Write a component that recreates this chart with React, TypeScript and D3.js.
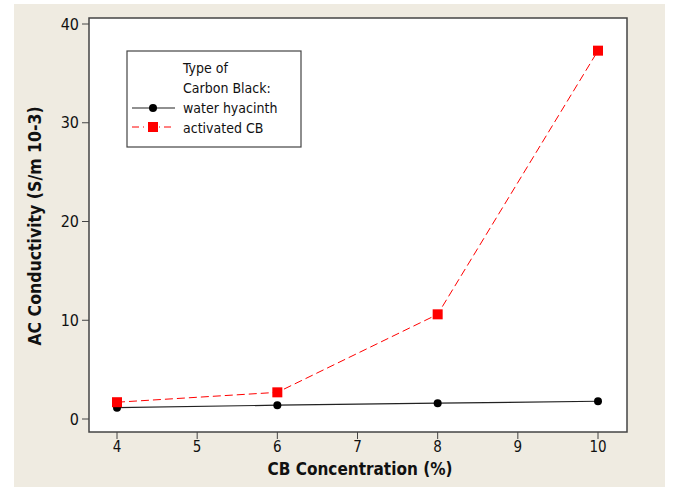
import React from "react";
import * as d3 from "d3";

const concentrations = [4, 6, 8, 10];
const waterHyacinth = [1.15, 1.4, 1.6, 1.8];
const activatedCB = [1.7, 2.7, 10.6, 37.3];
const xTicks = [4, 5, 6, 7, 8, 9, 10];
const yTicks = [0, 10, 20, 30, 40];
const legendTitle = ["Type of", "Carbon Black:"];
const seriesNames = ["water hyacinth", "activated CB"];

const W = 681, H = 491;
const COND = "DejaVu Sans Condensed, DejaVu Sans, sans-serif";

export default function App() {
  const left = 89, right = 627, top = 18, bottom = 432;
  const x = d3.scaleLinear().domain([4, 10]).range([117, 598]);
  const y = d3.scaleLinear().domain([0, 40]).range([419, 24]);
  const line = d3.line<number>().x((_, i) => x(concentrations[i])).y((d) => y(d));

  return (
    <svg width={W} height={H} style={{ position: "absolute", left: 0, top: 0 }}>
      <rect x={0} y={0} width={W} height={H} fill="#ffffff" />
      <rect x={14} y={4} width={651} height={483} fill="#EFEBE1" />
      <rect x={left} y={top} width={right - left} height={bottom - top} fill="#ffffff" stroke="#444" strokeWidth={1.5} />
      {yTicks.map((t) => (
        <g key={"y" + t}>
          <line x1={left - 7} x2={left} y1={y(t)} y2={y(t)} stroke="#444" />
          <text x={left - 10} y={y(t)} dy="0.35em" textAnchor="end" fontFamily={COND} fontSize={16} fill="#111">{t}</text>
        </g>
      ))}
      {xTicks.map((t) => (
        <g key={"x" + t}>
          <line x1={x(t)} x2={x(t)} y1={bottom} y2={bottom + 7} stroke="#444" />
          <text x={x(t)} y={bottom + 15} dy="0.35em" textAnchor="middle" fontFamily={COND} fontSize={15} fill="#111">{t}</text>
        </g>
      ))}
      <text x={360} y={469} dy="0.35em" textAnchor="middle" fontFamily={COND} fontSize={17} fontWeight="bold" fill="#111">CB Concentration (%)</text>
      <text transform={`translate(35,226) rotate(-90)`} dy="0.35em" textAnchor="middle" fontFamily={COND} fontSize={17.5} fontWeight="bold" fill="#111">AC Conductivity (S/m 10-3)</text>

      <path d={line(waterHyacinth) || ""} fill="none" stroke="#222" strokeWidth={1.2} />
      <path d={line(activatedCB) || ""} fill="none" stroke="#ff0000" strokeWidth={1} strokeDasharray="8,4" />
      {waterHyacinth.map((v, i) => (
        <circle key={"c" + i} cx={x(concentrations[i])} cy={y(v)} r={4} fill="#000" />
      ))}
      {activatedCB.map((v, i) => (
        <rect key={"s" + i} x={x(concentrations[i]) - 5} y={y(v) - 5} width={10} height={10} fill="#ff0000" />
      ))}

      <rect x={127} y={51} width={174} height={96} fill="#ffffff" stroke="#444" strokeWidth={1.2} />
      {legendTitle.map((t, i) => (
        <text key={"lt" + i} x={183} y={68 + i * 20} dy="0.35em" fontFamily={COND} fontSize={14} fill="#111">{t}</text>
      ))}
      <line x1={132} x2={175} y1={108} y2={108} stroke="#222" strokeWidth={1.2} />
      <circle cx={153} cy={108} r={4} fill="#000" />
      <line x1={132} x2={175} y1={127} y2={127} stroke="#ff0000" strokeWidth={1} strokeDasharray="7,4,1,4" />
      <rect x={148} y={122} width={10} height={10} fill="#ff0000" />
      {seriesNames.map((t, i) => (
        <text key={"ls" + i} x={183} y={108 + i * 20} dy="0.35em" fontFamily={COND} fontSize={14} fill="#111">{t}</text>
      ))}
    </svg>
  );
}
